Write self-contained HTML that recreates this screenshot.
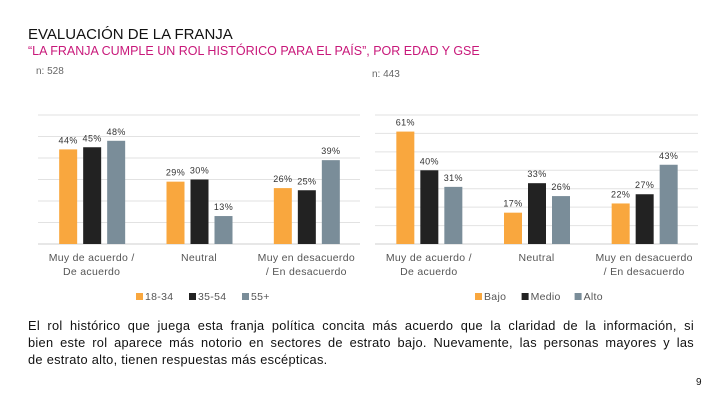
<!DOCTYPE html>
<html><head><meta charset="utf-8"><style>
body{margin:0;width:720px;height:405px;background:#fff;font-family:"Liberation Sans",sans-serif;overflow:hidden;position:relative}
.t{position:absolute;white-space:nowrap}
.j{text-align:justify;text-align-last:justify;white-space:nowrap}
</style></head><body>
<div class="t" style="left:28px;top:26px;font-size:15px;color:#111">EVALUACIÓN DE LA FRANJA</div>
<div class="t" style="left:28px;top:44px;font-size:12.5px;color:#c8187a">“LA FRANJA CUMPLE UN ROL HISTÓRICO PARA EL PAÍS”, POR EDAD Y GSE</div>
<div class="t" style="left:36px;top:66px;font-size:10px;color:#666">n: 528</div>
<div class="t" style="left:372px;top:69px;font-size:10px;color:#666">n: 443</div>
<svg id="c" width="720" height="405" style="position:absolute;left:0;top:0"></svg>
<div class="t" style="left:28px;top:317px;width:666px;white-space:normal;font-size:12.8px;letter-spacing:0.3px;line-height:17px;color:#111">
<div class="j">El rol histórico que juega esta franja política concita más acuerdo que la claridad de la información, si</div>
<div class="j">bien este rol aparece más notorio en sectores de estrato bajo. Nuevamente, las personas mayores y las</div>
<div>de estrato alto, tienen respuestas más escépticas.</div>
</div>
<div class="t" style="left:696px;top:377px;font-size:10px;color:#111">9</div>
<script>
const categories=["Muy de acuerdo /|De acuerdo","Neutral","Muy en desacuerdo|/ En desacuerdo"];
const ageSeries=["18-34","35-54","55+"];
const ageValues=[[44,29,26],[45,30,25],[48,13,39]];
const gseSeries=["Bajo","Medio","Alto"];
const gseValues=[[61,17,22],[40,33,27],[31,26,43]];
const colors=["#F9A73E","#222222","#7A8D99"];
const svg=document.getElementById('c');const NS="http://www.w3.org/2000/svg";
function mk(t,a,p){const e=document.createElementNS(NS,t);for(const k in a)e.setAttribute(k,a[k]);(p||svg).appendChild(e);return e;}
function chart(x0,x1,yTop,yBase,max,series,values,name,legX){
 const y=v=>yBase-(yBase-yTop)*v/max;
 const cw=(x1-x0)/categories.length;
 for(let g=0;g<=max;g+=10){const l=mk('line',{x1:x0,x2:x1,y1:y(g),y2:y(g),stroke:g?'#e2e2e2':'#cfcfcf','stroke-width':1});
 }
 categories.forEach((c,ci)=>{const cx=x0+cw*(ci+0.5);
  series.forEach((s,si)=>{const v=values[si][ci];const bx=cx-32.5+si*24;
   const r=mk('rect',{x:bx,y:y(v),width:18,height:yBase-y(v),fill:colors[si]});
   
   const t=mk('text',{x:bx+9,y:y(v)-6,'text-anchor':'middle','font-size':9,'letter-spacing':0.4,fill:'#333'});t.textContent=v+'%';
   });
  c.split('|').forEach((ln,li)=>{const t=mk('text',{x:cx,y:yBase+17+li*14,'text-anchor':'middle','font-size':10.5,'letter-spacing':0.3,fill:'#555'});t.textContent=ln;
   });
 });
 let lx=legX;series.forEach((s,si)=>{mk('rect',{x:lx,y:293,width:7,height:7,fill:colors[si]});
  const t=mk('text',{x:lx+9,y:300,'font-size':10.5,'letter-spacing':0.3,fill:'#555'});t.textContent=s;
  
  lx+=9+s.length*6.4+12;});
}
chart(38,360,115,244,60,ageSeries,ageValues,'age',136);
chart(375,698,115,244,70,gseSeries,gseValues,'gse',475);
</script>
</body></html>
